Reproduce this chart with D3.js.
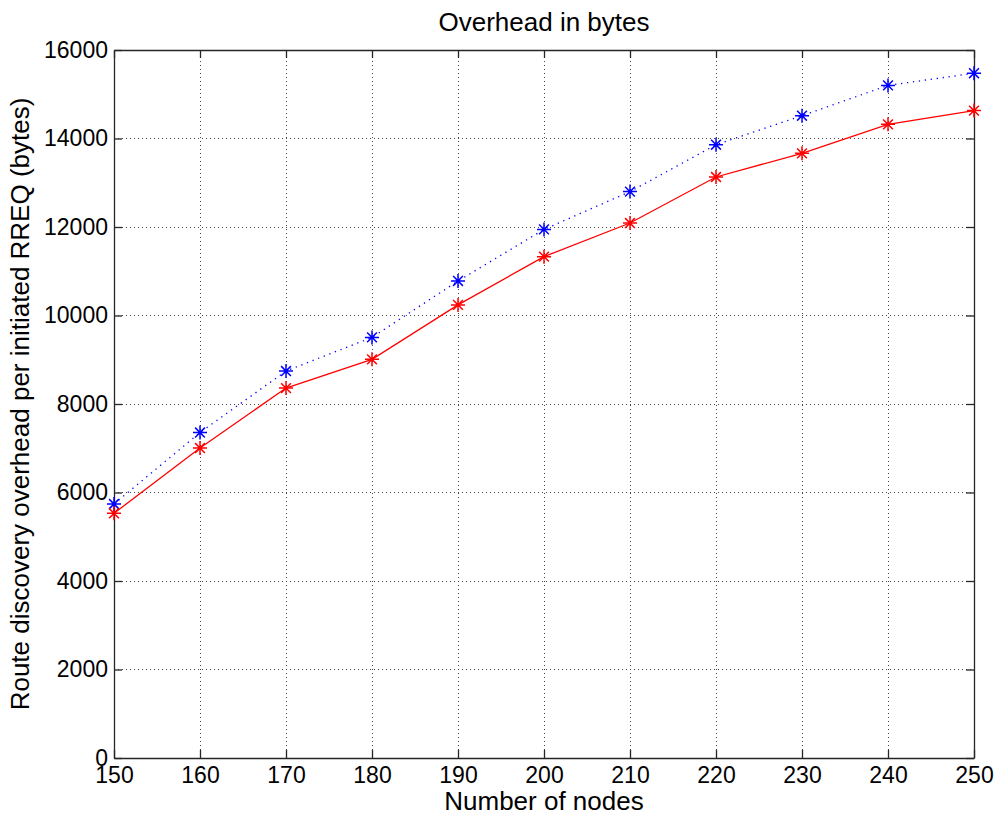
<!DOCTYPE html>
<html>
<head>
<meta charset="utf-8">
<script src="https://cdn.jsdelivr.net/npm/d3@7/dist/d3.min.js"></script>
<style>
  html, body { margin: 0; padding: 0; background: #fff; }
  svg { display: block; }
  text { font-family: Arial, "Liberation Sans", Helvetica, sans-serif; fill: #000; }
</style>
</head>
<body>
<div id="chart"></div>
<script>
// values
const nodes = [150, 160, 170, 180, 190, 200, 210, 220, 230, 240, 250]
const blueSeries = [5740, 7355, 8745, 9505, 10780, 11945, 12800, 13860, 14515, 15200, 15475]
const redSeries  = [5530, 7005, 8360, 9010, 10240, 11330, 12090, 13130, 13665, 14320, 14630]
const xTicks = [150, 160, 170, 180, 190, 200, 210, 220, 230, 240, 250]
const yTicks = [0, 2000, 4000, 6000, 8000, 10000, 12000, 14000, 16000]

const W = 995, H = 816
const margin = { left: 114, right: 21, top: 50, bottom: 58 }
const innerW = W - margin.left - margin.right
const innerH = H - margin.top - margin.bottom

const svg = d3.select("#chart").append("svg")
  .attr("width", W)
  .attr("height", H)

const x = d3.scaleLinear().domain([150, 250]).range([margin.left, margin.left + innerW])
const y = d3.scaleLinear().domain([0, 16000]).range([margin.top + innerH, margin.top])

const AXIS = "#262626"
const TICK_LEN = 8
const fmt = d3.format("d")

// grid (dotted, MATLAB style)
const grid = svg.append("g").attr("class", "grid")
grid.selectAll("line.gx")
  .data(xTicks.slice(1, -1))
  .join("line")
  .attr("x1", d => x(d)).attr("x2", d => x(d))
  .attr("y1", y(0)).attr("y2", y(16000))
  .attr("stroke", "#444").attr("stroke-width", 1)
  .attr("stroke-dasharray", "1,3")
  .attr("shape-rendering", "crispEdges")
grid.selectAll("line.gy")
  .data(yTicks.slice(1, -1))
  .join("line")
  .attr("x1", x(150)).attr("x2", x(250))
  .attr("y1", d => y(d)).attr("y2", d => y(d))
  .attr("stroke", "#444").attr("stroke-width", 1)
  .attr("stroke-dasharray", "1,3")
  .attr("shape-rendering", "crispEdges")

// axes: ticks pointing inward on all four sides
const axisBottom = d3.axisBottom(x).tickValues(xTicks).tickFormat(fmt).tickSizeInner(-TICK_LEN).tickSizeOuter(0).tickPadding(9)
const axisTop = d3.axisTop(x).tickValues(xTicks).tickSizeInner(-TICK_LEN).tickSizeOuter(0).tickFormat("")
const axisLeft = d3.axisLeft(y).tickValues(yTicks).tickFormat(fmt).tickSizeInner(-TICK_LEN).tickSizeOuter(0).tickPadding(6)
const axisRight = d3.axisRight(y).tickValues(yTicks).tickSizeInner(-TICK_LEN).tickSizeOuter(0).tickFormat("")

function styleAxis(g) {
  g.attr("font-size", null).attr("font-family", null)
  g.select(".domain").attr("stroke", AXIS).attr("stroke-width", 1.3)
  g.selectAll(".tick line").attr("stroke", AXIS).attr("stroke-width", 1.3)
  g.selectAll(".tick text")
    .style("font-size", "23px")
    .style("font-family", "Arial, 'Liberation Sans', sans-serif")
    .attr("fill", "#000")
}

svg.append("g").attr("transform", `translate(0,${y(0)})`).call(axisBottom).call(styleAxis)
svg.append("g").attr("transform", `translate(0,${y(16000)})`).call(axisTop).call(styleAxis)
svg.append("g").attr("transform", `translate(${x(150)},0)`).call(axisLeft).call(styleAxis)
svg.append("g").attr("transform", `translate(${x(250)},0)`).call(axisRight).call(styleAxis)

// series
const line = d3.line()
  .x((d, i) => x(nodes[i]))
  .y(d => y(d))

svg.append("path")
  .datum(blueSeries)
  .attr("d", line)
  .attr("fill", "none")
  .attr("stroke", "#0000ff")
  .attr("stroke-width", 1.3)
  .attr("stroke-dasharray", "1.3,4.7")

svg.append("path")
  .datum(redSeries)
  .attr("d", line)
  .attr("fill", "none")
  .attr("stroke", "#ff0000")
  .attr("stroke-width", 1.3)

// asterisk markers
function drawMarkers(values, color) {
  const r = 7, d = r * 0.7
  const g = svg.append("g")
    .selectAll("g")
    .data(values)
    .join("g")
    .attr("transform", (v, i) => `translate(${x(nodes[i])},${y(v)})`)
  g.append("path")
    .attr("d", `M${-r},0L${r},0M0,${-r}L0,${r}M${-d},${-d}L${d},${d}M${-d},${d}L${d},${-d}`)
    .attr("stroke", color)
    .attr("stroke-width", 1.5)
    .attr("fill", "none")
}
drawMarkers(blueSeries, "#0000ff")
drawMarkers(redSeries, "#ff0000")

// title and labels
svg.append("text")
  .attr("x", (x(150) + x(250)) / 2)
  .attr("y", 31)
  .attr("text-anchor", "middle")
  .attr("font-size", "26px")
  .text("Overhead in bytes")

svg.append("text")
  .attr("x", (x(150) + x(250)) / 2)
  .attr("y", 810)
  .attr("text-anchor", "middle")
  .attr("font-size", "26px")
  .text("Number of nodes")

svg.append("text")
  .attr("transform", `translate(29,${(y(0) + y(16000)) / 2}) rotate(-90)`)
  .attr("text-anchor", "middle")
  .attr("font-size", "26px")
  .text("Route discovery overhead per initiated RREQ (bytes)")
</script>
</body>
</html>
